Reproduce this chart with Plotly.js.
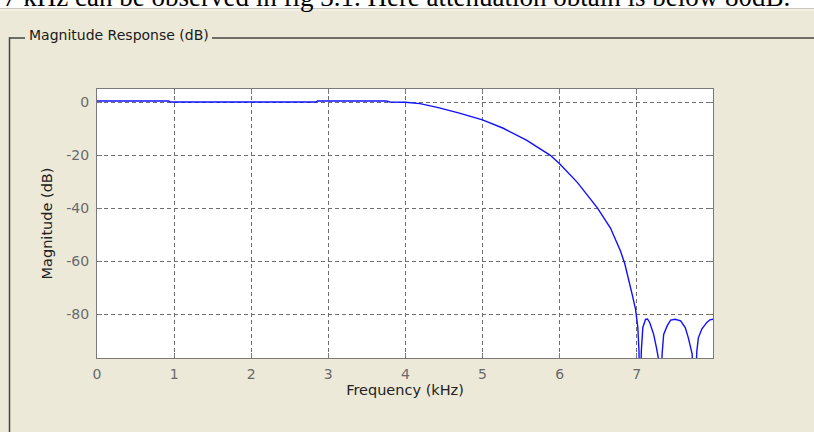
<!DOCTYPE html>
<html>
<head>
<meta charset="utf-8">
<script src="https://cdn.plot.ly/plotly-3.0.1.min.js"></script>
<style>
html,body{margin:0;padding:0;background:#ECE9D8;}
#chart{width:814px;height:432px;}
</style>
</head>
<body>
<div id="chart"></div>
<script>
// ---- data ----
const freqKHz = [0, 0.5, 0.93, 0.95, 1.5, 2.0, 2.5, 2.84, 2.86, 3.3, 3.75, 3.8, 4.0,
  4.19, 4.44, 4.7, 5.0, 5.27, 5.57, 5.88, 6.0, 6.23, 6.49, 6.66, 6.79, 6.845, 6.9, 6.94, 6.985,
  7.015, 7.03, 7.045, 7.06, 7.08, 7.115, 7.14, 7.17, 7.22, 7.257, 7.29, 7.305, 7.33, 7.35,
  7.395, 7.44, 7.5, 7.57, 7.63, 7.67, 7.72, 7.745, 7.78, 7.8, 7.845, 7.91, 7.95, 7.99];
const magnitudeDB = [0.4, 0.4, 0.4, 0, 0, 0, 0, 0, 0.4, 0.4, 0.4, 0, -0.1,
  -0.6, -2.2, -4.2, -6.75, -9.9, -14.4, -20.1, -23.3, -30.3, -39.9, -47.5, -56.2, -60.9, -67.2, -72.3, -78.1,
  -85, -94, -120, -94, -85, -81.9, -81.8, -83.2, -87.6, -92.7, -98, -120, -95, -87.6,
  -84.4, -82.2, -81.9, -82.5, -85, -88.9, -95, -120, -94, -88.9, -85.6, -83.1, -82.1, -81.9];
const xTickVals = [0, 1, 2, 3, 4, 5, 6, 7];
const xTickText = ['0', '1', '2', '3', '4', '5', '6', '7'];
const yTickVals = [0, -20, -40, -60, -80];
const yTickText = ['0', '-20', '-40', '-60', '-80'];
const panelTitle = 'Magnitude Response (dB)';
const xTitle = 'Frequency (kHz)';
const yTitle = 'Magnitude (dB)';
const docText = '7 kHz can be observed in fig 3.1. Here attenuation obtain is below 80dB.';

// ---- layout helpers (pixel -> paper) ----
const W = 814, H = 432, L = 97, R = 713, T = 89, B = 358;
const px = p => (p - L) / (R - L);
const py = p => (B - p) / (B - T);

const axisGray = '#7a7a7a';
const gridSpec = {showgrid: true, gridcolor: '#6e6e6e', gridwidth: 1, griddash: '4px,3px'};

const trace = {
  x: freqKHz, y: magnitudeDB, type: 'scatter', mode: 'lines',
  line: {color: '#1010ff', width: 1.4}, hoverinfo: 'skip'
};

const frameColor = '#454545';
const layout = {
  width: W, height: H,
  margin: {l: L, r: W - R, t: T, b: H - B, pad: 0},
  paper_bgcolor: '#ECE9D8', plot_bgcolor: '#ffffff',
  showlegend: false,
  font: {family: 'DejaVu Sans, sans-serif', size: 14, color: '#222'},
  xaxis: Object.assign({
    range: [0, 7.99], tickvals: xTickVals, ticktext: xTickText,
    ticks: 'inside', ticklen: 5, tickcolor: axisGray, tickwidth: 1,
    showline: true, linecolor: axisGray, linewidth: 1, mirror: 'ticks',
    zeroline: false, tickfont: {size: 14, color: '#6a6a6a'},
    ticklabelstandoff: 3,
    title: {text: xTitle, font: {size: 14.5, color: '#222'}, standoff: 4}
  }, gridSpec),
  yaxis: Object.assign({
    range: [-96.5, 4.9], tickvals: yTickVals, ticktext: yTickText,
    ticks: 'inside', ticklen: 5, tickcolor: axisGray, tickwidth: 1,
    showline: true, linecolor: axisGray, linewidth: 1, mirror: 'ticks',
    zeroline: false, tickfont: {size: 14, color: '#6a6a6a'},
    ticklabelstandoff: 4,
    title: {text: yTitle, font: {size: 14.5, color: '#222'}, standoff: 10}
  }, gridSpec),
  shapes: [
    // white strip of the document above the window
    {type: 'rect', xref: 'paper', yref: 'paper', layer: 'below',
     x0: px(-5), x1: px(W + 5), y0: py(-5), y1: py(8),
     fillcolor: '#ffffff', line: {width: 0}},
    {type: 'line', xref: 'paper', yref: 'paper', layer: 'below',
     x0: px(-5), x1: px(W + 5), y0: py(8.5), y1: py(8.5),
     line: {color: '#c9c7bd', width: 1}},
    {type: 'line', xref: 'paper', yref: 'paper', layer: 'below',
     x0: px(-5), x1: px(W + 5), y0: py(10), y1: py(10),
     line: {color: '#f7f6f0', width: 1}},
    // group box frame
    {type: 'line', xref: 'paper', yref: 'paper', layer: 'below',
     x0: px(9.5), x1: px(25), y0: py(38), y1: py(38),
     line: {color: frameColor, width: 1.5}},
    {type: 'line', xref: 'paper', yref: 'paper', layer: 'below',
     x0: px(212), x1: px(W + 5), y0: py(38), y1: py(38),
     line: {color: frameColor, width: 1.5}},
    {type: 'line', xref: 'paper', yref: 'paper', layer: 'below',
     x0: px(9.5), x1: px(9.5), y0: py(37.3), y1: py(H + 5),
     line: {color: frameColor, width: 1.5}}
  ],
  annotations: [
    {text: panelTitle, xref: 'paper', yref: 'paper', x: px(27), y: py(34.5),
     xanchor: 'left', yanchor: 'middle', showarrow: false,
     font: {family: 'DejaVu Sans, sans-serif', size: 14, color: '#1a1a1a'}},
    {text: docText, xref: 'paper', yref: 'paper', x: px(1), y: py(14),
     xanchor: 'left', yanchor: 'bottom', showarrow: false,
     font: {family: 'Liberation Serif, serif', size: 27, color: '#000'}}
  ]
};

Plotly.newPlot('chart', [trace], layout, {staticPlot: true, displayModeBar: false});
</script>
</body>
</html>
